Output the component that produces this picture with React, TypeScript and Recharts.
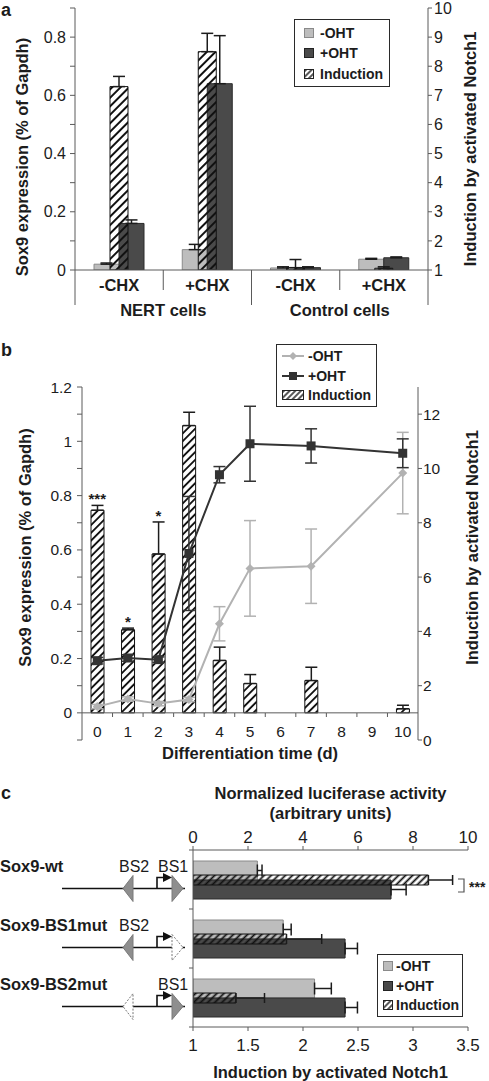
import React from 'react'
import {
  ComposedChart,
  Bar,
  Line,
  XAxis,
  YAxis,
  ErrorBar,
  Legend,
  Label,
  LabelList,
  ReferenceLine,
} from 'recharts'

const FONT = '"Liberation Sans", Arial, Helvetica, sans-serif'
const INK = '#1c1c1c'
const AXIS = '#5a5a5a'
const LIGHT = '#bdbdbd'
const LIGHT_EDGE = '#8a8a8a'
const DARK = '#4a4a4a'
const DARK_EDGE = '#2a2a2a'
const LINE_LIGHT = '#b2b2b2'
const LINE_DARK = '#333333'

// fold induction is drawn up from 1 (no change)
const FOLD_BASE = 1

// ---- panel a: NERT / control cells, with and without cycloheximide
const aGroups = ['NERT cells', 'NERT cells', 'Control cells', 'Control cells']
const aTreat = ['-CHX', '+CHX', '-CHX', '+CHX']
const aMinus = [0.02, 0.07, 0.007, 0.037]
const aMinusErr = [0.004, 0.018, 0.004, 0.003]
const aPlus = [0.16, 0.64, 0.008, 0.042]
const aPlusErr = [0.012, 0.165, 0.003, 0.003]
const aInduction = [7.3, 8.5, 1.08, 1.06]
const aInductionErr = [0.35, 0.63, 0.28, 0.05]
const aLeftTicks = [0, 0.1, 0.2, 0.3, 0.4, 0.5, 0.6, 0.7, 0.8, 0.9]
const aRightTicks = [1, 2, 3, 4, 5, 6, 7, 8, 9, 10]

// ---- panel b: differentiation time course
const bDays = ['0', '1', '2', '3', '4', '5', '6', '7', '8', '9', '10']
const bMinus = [0.023, 0.051, 0.034, 0.049, 0.328, 0.532, null, 0.54, null, null, 0.883]
const bMinusErr = [0.008, 0.008, 0.008, 0.008, 0.063, 0.176, null, 0.137, null, null, 0.15]
const bPlus = [0.192, 0.202, 0.196, 0.587, 0.877, 0.991, null, 0.983, null, null, 0.956]
const bPlusErr = [0.012, 0.012, 0.01, 0.21, 0.03, 0.138, null, 0.063, null, null, 0.053]
const bInduction = [8.46, 4.06, 6.85, 11.58, 2.93, 2.08, null, 2.19, null, null, 1.15]
const bInductionErr = [0.18, 0.06, 1.18, 0.49, 0.49, 0.33, null, 0.49, null, null, 0.13]
const bSig = ['***', '*', '*', '', '', '', '', '', '', '', '']
const bLeftTicks = [-0.1, 0, 0.1, 0.2, 0.3, 0.4, 0.5, 0.6, 0.7, 0.8, 0.9, 1, 1.1, 1.2]
const bRightTicks = [0, 2, 4, 6, 8, 10, 12]

// ---- panel c: luciferase reporters
const cNames = ['Sox9-wt', 'Sox9-BS1mut', 'Sox9-BS2mut']
const cSiteLabels = [['BS2', 'BS1'], ['BS2'], ['BS1']]
const cMutated = [[], ['BS1'], ['BS2']]
const cMinus = [2.34, 3.28, 4.42]
const cMinusErr = [0.17, 0.29, 0.61]
const cPlus = [7.2, 5.53, 5.53]
const cPlusErr = [0.55, 0.45, 0.45]
const cInduction = [3.14, 1.85, 1.39]
const cInductionErr = [0.22, 0.32, 0.26]
const cTopTicks = [0, 2, 4, 6, 8, 10]
const cBottomTicks = [1, 1.5, 2, 2.5, 3, 3.5]

const aData = aTreat.map((treat, i) => ({
  key: `${aGroups[i]} ${treat}`,
  minus: aMinus[i],
  minusErr: [0, aMinusErr[i]],
  plus: aPlus[i],
  plusErr: [0, aPlusErr[i]],
  ind: aInduction[i],
  indErr: [0, aInductionErr[i]],
}))

const bData = bDays.map((day, i) => {
  const ind = bInduction[i]
  const err = bInductionErr[i]
  return {
    day,
    minus: bMinus[i],
    minusErr: bMinusErr[i],
    plus: bPlus[i],
    plusErr: bPlusErr[i],
    ind: ind == null ? null : [FOLD_BASE, ind],
    indErr: ind == null ? null : [0, err],
    sig: bSig[i] ? bSig[i] : undefined,
    sigAt: bSig[i] && ind != null && err != null ? ind + err : null,
  }
})

const cData = cNames.map((name, i) => ({
  name,
  minus: cMinus[i],
  minusErr: [0, cMinusErr[i]],
  plus: cPlus[i],
  plusErr: [0, cPlusErr[i]],
  ind: cInduction[i],
  indErr: [0, cInductionErr[i]],
}))

function Hatch({ id, size, width }: { id: string; size: number; width: number }) {
  return (
    <pattern id={id} patternUnits="userSpaceOnUse" width={size} height={size} patternTransform="rotate(45)">
      <line x1={size / 2} y1={0} x2={size / 2} y2={size} stroke="#111" strokeWidth={width} />
    </pattern>
  )
}

const vTitle = (text: string, dx: number, dy: number) => (props: any) => {
  const vb = props.viewBox
  if (!vb) return null
  const cx = vb.x + dx
  const cy = vb.y + vb.height / 2 + dy
  return (
    <text
      x={cx}
      y={cy}
      transform={`rotate(-90 ${cx} ${cy})`}
      textAnchor="middle"
      dy="0.35em"
      fontFamily={FONT}
      fontWeight={700}
      fontSize={16.5}
      fill={INK}
    >
      {text}
    </text>
  )
}

const hTitle = (lines: string[], dys: number[]) => (props: any) => {
  const vb = props.viewBox
  if (!vb) return null
  const cx = vb.x + vb.width / 2
  return (
    <g>
      {lines.map((line, i) => (
        <text
          key={line}
          x={cx}
          y={vb.y + dys[i]}
          textAnchor="middle"
          dy="0.35em"
          fontFamily={FONT}
          fontWeight={700}
          fontSize={16.5}
          fill={INK}
        >
          {line}
        </text>
      ))}
    </g>
  )
}

function Swatch({ kind, pid }: { kind: string; pid: string }) {
  if (kind === 'lineLight' || kind === 'lineDark') {
    const c = kind === 'lineLight' ? LINE_LIGHT : LINE_DARK
    return (
      <svg width={22} height={10} style={{ display: 'block' }}>
        <line x1={0} x2={22} y1={5} y2={5} stroke={c} strokeWidth={2} />
        {kind === 'lineLight' ? (
          <polygon points="11,1 15,5 11,9 7,5" fill={c} />
        ) : (
          <rect x={7} y={1} width={8} height={8} fill={c} />
        )}
      </svg>
    )
  }
  const w = kind === 'hatchWide' ? 22 : 10
  const fill = kind === 'light' ? LIGHT : kind === 'dark' ? DARK : '#fff'
  const edge = kind === 'light' ? LIGHT_EDGE : '#222'
  const hatched = kind === 'hatch' || kind === 'hatchWide'
  return (
    <svg width={w} height={10} style={{ display: 'block' }}>
      {hatched && (
        <defs>
          <Hatch id={pid} size={4} width={1.4} />
        </defs>
      )}
      <rect x={0.5} y={0.5} width={w - 1} height={9} fill={fill} stroke={edge} />
      {hatched && <rect x={0.5} y={0.5} width={w - 1} height={9} fill={`url(#${pid})`} stroke={edge} />}
    </svg>
  )
}

interface LegendItem {
  kind: string
  label: string
}

function BoxLegend({ items, w, h, pad, gap, id }: { items: LegendItem[]; w: number; h: number; pad: number; gap: number; id: string }) {
  return (
    <div
      style={{
        width: w,
        height: h,
        boxSizing: 'border-box',
        border: '1px solid #2a2a2a',
        background: '#fff',
        display: 'flex',
        flexDirection: 'column',
        justifyContent: 'space-evenly',
        paddingLeft: pad,
        fontFamily: FONT,
        fontWeight: 700,
        fontSize: 14,
        color: INK,
      }}
    >
      {items.map((it, i) => (
        <div key={it.label} style={{ display: 'flex', alignItems: 'center', lineHeight: '16px' }}>
          <Swatch kind={it.kind} pid={`${id}-${i}`} />
          <span style={{ marginLeft: gap }}>{it.label}</span>
        </div>
      ))}
    </div>
  )
}

// panel a category axis: treatment labels, divider lines, cell-type groups
function GroupTick(props: any) {
  const { x, y, payload, index } = props
  const half = payload && payload.offset ? payload.offset : 44
  const group = aGroups[index]
  const first = index === 0 || aGroups[index - 1] !== group
  const last = index === aGroups.length - 1
  const txt = { fontFamily: FONT, fontWeight: 700, fontSize: 16.5, fill: INK, textAnchor: 'middle' as const }
  return (
    <g>
      <line x1={x - half} x2={x - half} y1={y} y2={y + (first ? 35 : 20)} stroke={AXIS} />
      {last && <line x1={x + half} x2={x + half} y1={y} y2={y + 35} stroke={AXIS} />}
      <text x={x} y={y + 15} dy="0.35em" {...txt}>
        {aTreat[index]}
      </text>
      {first && (
        <text x={x + half} y={y + 40} dy="0.35em" {...txt}>
          {group}
        </text>
      )}
    </g>
  )
}

// panel b day axis: labels sit above the plot bottom, on the 0 line
function DayTick(props: any) {
  const { x, y, payload, index } = props
  const half = payload && payload.offset ? payload.offset : 15
  return (
    <g>
      {index < bDays.length - 1 && (
        <line x1={x + half} x2={x + half} y1={y - 27} y2={y - 23} stroke={AXIS} />
      )}
      <text x={x} y={y - 3} textAnchor="middle" fontFamily={FONT} fontSize={15.5} fill={INK}>
        {payload.value}
      </text>
    </g>
  )
}

// panel c construct axis: name and promoter sketch per reporter
function ConstructTick(props: any) {
  const { x, y, payload, index } = props
  const half = payload && payload.offset ? payload.offset : 30
  const ly = y + 9
  const mut = cMutated[index] || []
  const labels = cSiteLabels[index] || []
  const site = (name: string, pts: string) =>
    mut.includes(name) ? (
      <polygon points={pts} fill="#fff" stroke="#777" strokeDasharray="2 1.5" />
    ) : (
      <polygon points={pts} fill="#8e8e8e" stroke="#7a7a7a" />
    )
  return (
    <g>
      <line x1={x - 4} x2={x} y1={y - half} y2={y - half} stroke={AXIS} />
      {index === cNames.length - 1 && <line x1={x - 4} x2={x} y1={y + half} y2={y + half} stroke={AXIS} />}
      <text x={x - 193} y={y - 13} dy="0.35em" fontFamily={FONT} fontWeight={700} fontSize={16.5} fill={INK}>
        {payload.value}
      </text>
      {labels.includes('BS2') && (
        <text x={x - 74} y={y - 13} dy="0.35em" fontFamily={FONT} fontSize={16} fill={INK}>
          BS2
        </text>
      )}
      {labels.includes('BS1') && (
        <text x={x - 35} y={y - 13} dy="0.35em" fontFamily={FONT} fontSize={16} fill={INK}>
          BS1
        </text>
      )}
      <line x1={x - 131} x2={x - 8} y1={ly} y2={ly} stroke="#111" strokeWidth={1.5} />
      {site('BS2', `${x - 70},${ly} ${x - 60},${ly - 13} ${x - 60},${ly + 13}`)}
      {site('BS1', `${x - 21},${ly - 13} ${x - 10},${ly} ${x - 21},${ly + 13}`)}
      <polyline points={`${x - 36},${ly} ${x - 36},${ly - 11} ${x - 29},${ly - 11}`} fill="none" stroke="#111" strokeWidth={1.6} />
      <polygon points={`${x - 30},${ly - 15.5} ${x - 21},${ly - 11} ${x - 30},${ly - 6.5}`} fill="#111" />
    </g>
  )
}

const diamondDot = (p: any) => {
  const { cx, cy, index } = p
  if (cx == null || cy == null || Number.isNaN(cy)) return <g key={`dm${index}`} />
  return (
    <polygon
      key={`dm${index}`}
      points={`${cx},${cy - 4.5} ${cx + 4.5},${cy} ${cx},${cy + 4.5} ${cx - 4.5},${cy}`}
      fill={LINE_LIGHT}
    />
  )
}

const squareDot = (p: any) => {
  const { cx, cy, index } = p
  if (cx == null || cy == null || Number.isNaN(cy)) return <g key={`sq${index}`} />
  return <rect key={`sq${index}`} x={cx - 4.5} y={cy - 4.5} width={9} height={9} fill={LINE_DARK} />
}

const evenTenths = (v: number) => {
  const t = Math.round(v * 10)
  return t >= 0 && t % 2 === 0 ? String(t / 10) : ''
}

const tickStyle = (size: number) => ({ fontSize: size, fill: INK, fontFamily: FONT })

function PanelA() {
  return (
    <ComposedChart width={489} height={330} data={aData} margin={{ top: 8, right: 21, bottom: 0, left: 30 }} barGap={0}>
      <defs>
        <Hatch id="hatchA" size={6} width={2} />
      </defs>
      <XAxis xAxisId="ind" dataKey="key" hide height={0} />
      <XAxis
        xAxisId="main"
        dataKey="key"
        height={60}
        interval={0}
        tickSize={0}
        tickMargin={0}
        tickLine={false}
        axisLine={{ stroke: AXIS }}
        tick={<GroupTick />}
      />
      <YAxis
        yAxisId="l"
        domain={[0, 0.9]}
        allowDataOverflow
        ticks={aLeftTicks}
        tickFormatter={evenTenths}
        interval={0}
        width={45}
        tickSize={5}
        tickMargin={4}
        axisLine={{ stroke: AXIS }}
        tickLine={{ stroke: AXIS }}
        tick={tickStyle(16)}
      >
        <Label content={vTitle('Sox9 expression (% of Gapdh)', -8, 18)} />
      </YAxis>
      <YAxis
        yAxisId="r"
        orientation="right"
        domain={[1, 10]}
        allowDataOverflow
        ticks={aRightTicks}
        interval={0}
        width={40}
        tickSize={4}
        tickMargin={2}
        axisLine={{ stroke: AXIS }}
        tickLine={{ stroke: AXIS }}
        tick={tickStyle(16)}
      >
        <Label content={vTitle('Induction by activated Notch1', 42, 10)} />
      </YAxis>
      <Bar xAxisId="main" yAxisId="l" dataKey="minus" barSize={25} fill={LIGHT} stroke={LIGHT_EDGE} isAnimationActive={false}>
        <ErrorBar dataKey="minusErr" direction="y" width={6} stroke={INK} />
      </Bar>
      <Bar xAxisId="main" yAxisId="l" dataKey="plus" barSize={25} fill={DARK} stroke={DARK_EDGE} isAnimationActive={false}>
        <ErrorBar dataKey="plusErr" direction="y" width={6} stroke={INK} />
      </Bar>
      <Bar xAxisId="ind" yAxisId="r" dataKey="ind" barSize={18} fill="url(#hatchA)" stroke="#111" isAnimationActive={false}>
        <ErrorBar dataKey="indErr" direction="y" width={6} stroke={INK} />
      </Bar>
      <Legend
        layout="vertical"
        align="center"
        verticalAlign="middle"
        wrapperStyle={{ left: 294, top: 19, width: 96, height: 68 }}
        content={() => (
          <BoxLegend
            id="la"
            w={96}
            h={68}
            pad={9}
            gap={6}
            items={[
              { kind: 'light', label: '-OHT' },
              { kind: 'dark', label: '+OHT' },
              { kind: 'hatch', label: 'Induction' },
            ]}
          />
        )}
      />
    </ComposedChart>
  )
}

function PanelB() {
  return (
    <ComposedChart width={489} height={440} data={bData} margin={{ top: 47, right: 26, bottom: 39, left: 30 }}>
      <defs>
        <Hatch id="hatchB" size={5.5} width={1.9} />
      </defs>
      <XAxis
        dataKey="day"
        height={1}
        interval={0}
        tickSize={0}
        tickMargin={0}
        tickLine={false}
        axisLine={false}
        tick={<DayTick />}
      >
        <Label content={hTitle(['Differentiation time (d)'], [13])} />
      </XAxis>
      <YAxis
        yAxisId="l"
        domain={[-0.1, 1.2]}
        allowDataOverflow
        ticks={bLeftTicks}
        tickFormatter={evenTenths}
        interval={0}
        width={52}
        tickSize={5}
        tickMargin={5}
        axisLine={{ stroke: AXIS }}
        tickLine={{ stroke: AXIS }}
        tick={tickStyle(15.5)}
      >
        <Label content={vTitle('Sox9 expression (% of Gapdh)', -5, -16)} />
      </YAxis>
      <YAxis
        yAxisId="r"
        orientation="right"
        domain={[0, 13]}
        allowDataOverflow
        ticks={bRightTicks}
        interval={0}
        width={45}
        tickSize={4}
        tickMargin={1}
        axisLine={{ stroke: AXIS }}
        tickLine={{ stroke: AXIS }}
        tick={tickStyle(15.5)}
      >
        <Label content={vTitle('Induction by activated Notch1', 54, -16)} />
      </YAxis>
      <ReferenceLine yAxisId="l" y={0} stroke={AXIS} />
      <Bar yAxisId="r" dataKey="ind" barSize={13} fill="url(#hatchB)" stroke="#111" isAnimationActive={false}>
        <ErrorBar dataKey="indErr" direction="y" width={6} stroke={INK} />
      </Bar>
      <Line yAxisId="r" dataKey="sigAt" stroke="none" dot={false} activeDot={false} isAnimationActive={false}>
        <LabelList dataKey="sig" position="top" offset={1} fill={INK} fontFamily={FONT} fontWeight={700} fontSize={15} />
      </Line>
      <Line
        yAxisId="l"
        dataKey="minus"
        stroke={LINE_LIGHT}
        strokeWidth={2}
        connectNulls
        dot={diamondDot}
        activeDot={false}
        isAnimationActive={false}
      >
        <ErrorBar dataKey="minusErr" direction="y" width={6} stroke={LINE_LIGHT} strokeWidth={1.5} />
      </Line>
      <Line
        yAxisId="l"
        dataKey="plus"
        stroke={LINE_DARK}
        strokeWidth={2}
        connectNulls
        dot={squareDot}
        activeDot={false}
        isAnimationActive={false}
      >
        <ErrorBar dataKey="plusErr" direction="y" width={6} stroke={LINE_DARK} strokeWidth={1.5} />
      </Line>
      <Legend
        layout="vertical"
        align="center"
        verticalAlign="middle"
        wrapperStyle={{ left: 276, top: 4, width: 101, height: 63 }}
        content={() => (
          <BoxLegend
            id="lb"
            w={101}
            h={63}
            pad={5}
            gap={4}
            items={[
              { kind: 'lineLight', label: '-OHT' },
              { kind: 'lineDark', label: '+OHT' },
              { kind: 'hatchWide', label: 'Induction' },
            ]}
          />
        )}
      />
    </ComposedChart>
  )
}

function PanelC() {
  return (
    <ComposedChart
      layout="vertical"
      width={489}
      height={341}
      data={cData}
      margin={{ top: 80, right: 21, bottom: 24, left: 0 }}
      barGap={0}
    >
      <defs>
        <Hatch id="hatchC" size={5} width={1.8} />
      </defs>
      <XAxis
        xAxisId="norm"
        orientation="top"
        type="number"
        domain={[0, 10]}
        allowDataOverflow
        ticks={cTopTicks}
        interval={0}
        height={30}
        tickSize={4}
        tickMargin={3}
        axisLine={{ stroke: AXIS }}
        tickLine={{ stroke: AXIS }}
        tick={tickStyle(17)}
      >
        <Label content={hTitle(['Normalized luciferase activity', '(arbitrary units)'], [-27, -7])} />
      </XAxis>
      <XAxis
        xAxisId="ind"
        orientation="bottom"
        type="number"
        domain={[1, 3.5]}
        allowDataOverflow
        ticks={cBottomTicks}
        interval={0}
        height={30}
        tickSize={4}
        tickMargin={8}
        axisLine={{ stroke: AXIS }}
        tickLine={{ stroke: AXIS }}
        tick={tickStyle(17)}
      >
        <Label content={hTitle(['Induction by activated Notch1'], [45])} />
      </XAxis>
      <YAxis yAxisId="cat2" type="category" dataKey="name" hide width={0} />
      <YAxis
        yAxisId="cat"
        type="category"
        dataKey="name"
        width={193}
        interval={0}
        tickSize={0}
        tickMargin={0}
        tickLine={false}
        axisLine={{ stroke: AXIS }}
        tick={<ConstructTick />}
      />
      <Bar xAxisId="norm" yAxisId="cat" dataKey="minus" barSize={19} fill={LIGHT} stroke={LIGHT_EDGE} isAnimationActive={false}>
        <ErrorBar dataKey="minusErr" direction="x" width={6} stroke={INK} />
      </Bar>
      <Bar xAxisId="norm" yAxisId="cat" dataKey="plus" barSize={19} fill={DARK} stroke={DARK_EDGE} isAnimationActive={false}>
        <ErrorBar dataKey="plusErr" direction="x" width={6} stroke={INK} />
      </Bar>
      <Bar xAxisId="ind" yAxisId="cat2" dataKey="ind" barSize={10} fill="url(#hatchC)" stroke="#111" isAnimationActive={false}>
        <ErrorBar dataKey="indErr" direction="x" width={5} stroke={INK} />
      </Bar>
      <Legend
        layout="vertical"
        align="center"
        verticalAlign="middle"
        wrapperStyle={{ left: 377, top: 214, width: 86, height: 63 }}
        content={() => (
          <BoxLegend
            id="lc"
            w={86}
            h={63}
            pad={5}
            gap={3}
            items={[
              { kind: 'light', label: '-OHT' },
              { kind: 'dark', label: '+OHT' },
              { kind: 'hatch', label: 'Induction' },
            ]}
          />
        )}
      />
    </ComposedChart>
  )
}

const letter = (top: number): React.CSSProperties => ({
  position: 'absolute',
  left: 1,
  top,
  fontFamily: FONT,
  fontWeight: 700,
  fontSize: 18,
  lineHeight: '20px',
  color: INK,
})

export default function App() {
  return (
    <div style={{ position: 'absolute', left: 0, top: 0, width: 489, height: 1081, background: '#fff', overflow: 'hidden' }}>
      <div style={{ position: 'absolute', left: 0, top: 0 }}>
        <PanelA />
      </div>
      <div style={{ position: 'absolute', left: 0, top: 340 }}>
        <PanelB />
      </div>
      <div style={{ position: 'absolute', left: 0, top: 780 }}>
        <div style={{ position: 'absolute', left: 0, top: -40 }}>
          <PanelC />
        </div>
      </div>
      <div style={letter(0)}>a</div>
      <div style={letter(340)}>b</div>
      <div style={letter(783)}>c</div>
      <svg style={{ position: 'absolute', left: 450, top: 872 }} width={39} height={26}>
        <polyline points="8,7 14,7 14,20 8,20" fill="none" stroke="#555" strokeWidth={1.2} />
        <text x={19} y={20} fontFamily={FONT} fontWeight={700} fontSize={14} fill={INK}>
          ***
        </text>
      </svg>
    </div>
  )
}
